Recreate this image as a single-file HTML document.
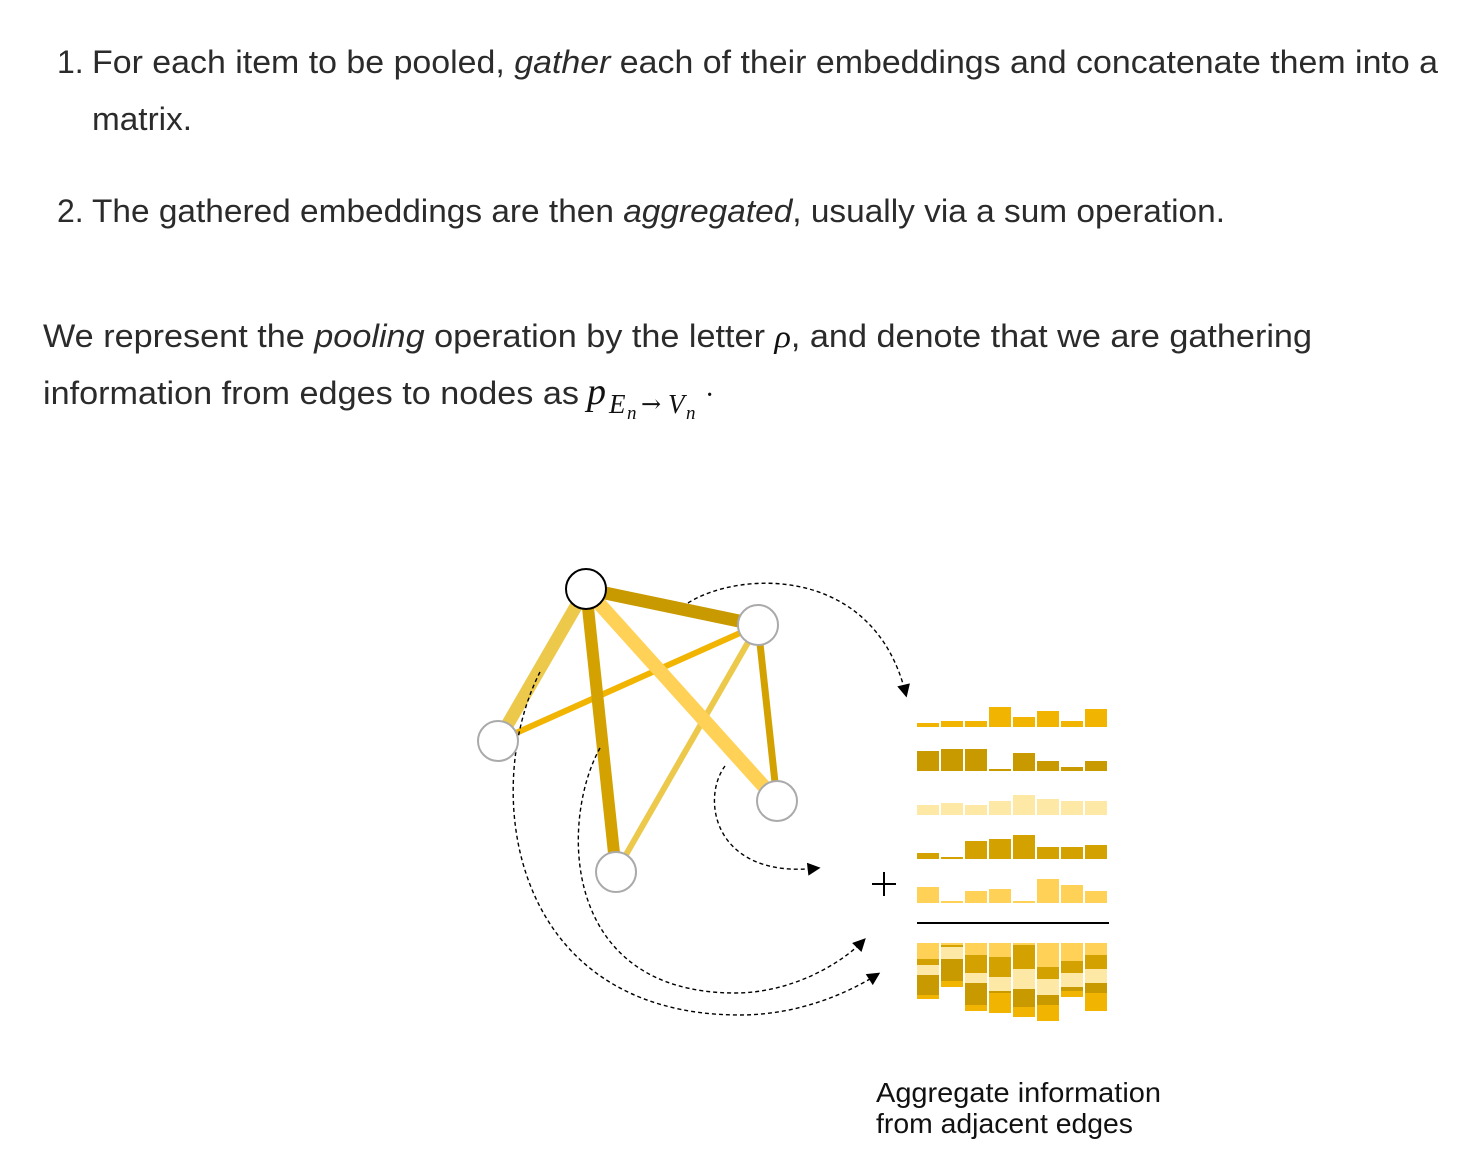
<!DOCTYPE html>
<html><head><meta charset="utf-8"><style>
html,body{margin:0;padding:0;background:#fff;}
svg{display:block;}
.t{font-family:"Liberation Sans",sans-serif;font-size:32px;fill:#2b2b2b;}
.i{font-style:italic;}
.m{font-family:"Liberation Serif",serif;font-style:italic;fill:#111;}
.cap{font-family:"Liberation Sans",sans-serif;font-size:28px;fill:#111;}
</style></head><body>
<svg width="1475" height="1155" viewBox="0 0 1475 1155" xmlns="http://www.w3.org/2000/svg">
<defs>
<marker id="ar" viewBox="0 0 10 10" refX="8" refY="5" markerWidth="15" markerHeight="13" orient="auto" markerUnits="userSpaceOnUse">
<path d="M0,0 L10,5 L0,10 z" fill="#000"/></marker>
</defs>
<text class="t" x="57" y="73">1.</text>
<text class="t" x="92" y="73" textLength="1346" lengthAdjust="spacingAndGlyphs">For each item to be pooled, <tspan class="i">gather</tspan> each of their embeddings and concatenate them into a</text>
<text class="t" x="92" y="130" textLength="100" lengthAdjust="spacingAndGlyphs">matrix.</text>
<text class="t" x="57" y="222">2.</text>
<text class="t" x="92" y="222" textLength="1133" lengthAdjust="spacingAndGlyphs">The gathered embeddings are then <tspan class="i">aggregated</tspan>, usually via a sum operation.</text>
<text class="t" x="43" y="347" textLength="1269" lengthAdjust="spacingAndGlyphs">We represent the <tspan class="i">pooling</tspan> operation by the letter <tspan class="m">ρ</tspan>, and denote that we are gathering</text>
<text class="t" x="43" y="404" textLength="536" lengthAdjust="spacingAndGlyphs">information from edges to nodes as</text>
<text class="m" x="587" y="404" font-size="38">p</text>
<text class="m" x="609" y="413" font-size="27">E</text>
<text class="m" x="627" y="419" font-size="19">n</text>
<text x="641" y="412" font-size="24" font-family="DejaVu Serif,serif" fill="#111">→</text>
<text class="m" x="668" y="413" font-size="27">V</text>
<text class="m" x="686" y="419" font-size="19">n</text>
<text x="705" y="404" font-size="28" font-family="Liberation Serif,serif" fill="#111">·</text>

<g stroke-linecap="butt">
<line x1="586" y1="589" x2="498" y2="741" stroke="#ecc94b" stroke-width="13"/>
<line x1="498" y1="741" x2="758" y2="625" stroke="#f1b400" stroke-width="6"/>
<line x1="586" y1="589" x2="616" y2="872" stroke="#d4a200" stroke-width="12"/>
<line x1="758" y1="625" x2="616" y2="872" stroke="#ecc94b" stroke-width="6"/>
<line x1="586" y1="589" x2="777" y2="801" stroke="#ffd257" stroke-width="14"/>
<line x1="586" y1="589" x2="758" y2="625" stroke="#c89a00" stroke-width="13"/>
<line x1="758" y1="625" x2="777" y2="801" stroke="#d4a200" stroke-width="7"/>
</g>
<g fill="none" stroke="#000" stroke-width="1.4" stroke-dasharray="4,3">
<path d="M688,603 C740,570 875,565 906,695" marker-end="url(#ar)"/>
<path d="M540,672 C480,790 510,1015 740,1015 C800,1015 850,992 878,974" marker-end="url(#ar)"/>
<path d="M600,748 C560,820 560,993 735,993 C790,993 840,965 864,940" marker-end="url(#ar)"/>
<path d="M725,766 C700,800 715,880 818,868" marker-end="url(#ar)"/>
</g>
<g fill="#fff" stroke="#aaa" stroke-width="2">
<circle cx="758" cy="625" r="20"/>
<circle cx="498" cy="741" r="20"/>
<circle cx="777" cy="801" r="20"/>
<circle cx="616" cy="872" r="20"/>
<circle cx="586" cy="589" r="20" stroke="#000"/>
</g>
<path d="M872,884 H896 M884,872 V896" stroke="#000" stroke-width="2"/>
<line x1="917" y1="923" x2="1109" y2="923" stroke="#000" stroke-width="2"/>
<text class="cap" x="876" y="1102" textLength="285" lengthAdjust="spacingAndGlyphs">Aggregate information</text>
<text class="cap" x="876" y="1133" textLength="257" lengthAdjust="spacingAndGlyphs">from adjacent edges</text>
<g>
<g fill="#f1b400">
<rect x="917" y="723" width="22" height="4"/><rect x="941" y="721" width="22" height="6"/><rect x="965" y="721" width="22" height="6"/><rect x="989" y="707" width="22" height="20"/><rect x="1013" y="717" width="22" height="10"/><rect x="1037" y="711" width="22" height="16"/><rect x="1061" y="721" width="22" height="6"/><rect x="1085" y="709" width="22" height="18"/>
</g>
<g fill="#c89a00">
<rect x="917" y="751" width="22" height="20"/><rect x="941" y="749" width="22" height="22"/><rect x="965" y="749" width="22" height="22"/><rect x="989" y="769" width="22" height="2"/><rect x="1013" y="753" width="22" height="18"/><rect x="1037" y="761" width="22" height="10"/><rect x="1061" y="767" width="22" height="4"/><rect x="1085" y="761" width="22" height="10"/>
</g>
<g fill="#fee8a6">
<rect x="917" y="805" width="22" height="10"/><rect x="941" y="803" width="22" height="12"/><rect x="965" y="805" width="22" height="10"/><rect x="989" y="801" width="22" height="14"/><rect x="1013" y="795" width="22" height="20"/><rect x="1037" y="799" width="22" height="16"/><rect x="1061" y="801" width="22" height="14"/><rect x="1085" y="801" width="22" height="14"/>
</g>
<g fill="#d4a200">
<rect x="917" y="853" width="22" height="6"/><rect x="941" y="857" width="22" height="2"/><rect x="965" y="841" width="22" height="18"/><rect x="989" y="839" width="22" height="20"/><rect x="1013" y="835" width="22" height="24"/><rect x="1037" y="847" width="22" height="12"/><rect x="1061" y="847" width="22" height="12"/><rect x="1085" y="845" width="22" height="14"/>
</g>
<g fill="#ffd257">
<rect x="917" y="887" width="22" height="16"/><rect x="941" y="901" width="22" height="2"/><rect x="965" y="891" width="22" height="12"/><rect x="989" y="889" width="22" height="14"/><rect x="1013" y="901" width="22" height="2"/><rect x="1037" y="879" width="22" height="24"/><rect x="1061" y="885" width="22" height="18"/><rect x="1085" y="891" width="22" height="12"/>
</g>
<g>
<rect x="917" y="943" width="22" height="16" fill="#ffd257"/><rect x="917" y="959" width="22" height="6" fill="#d4a200"/><rect x="917" y="965" width="22" height="10" fill="#fee8a6"/><rect x="917" y="975" width="22" height="20" fill="#c89a00"/><rect x="917" y="995" width="22" height="4" fill="#f1b400"/>
<rect x="941" y="943" width="22" height="2" fill="#ffd257"/><rect x="941" y="945" width="22" height="2" fill="#d4a200"/><rect x="941" y="947" width="22" height="12" fill="#fee8a6"/><rect x="941" y="959" width="22" height="22" fill="#c89a00"/><rect x="941" y="981" width="22" height="6" fill="#f1b400"/>
<rect x="965" y="943" width="22" height="12" fill="#ffd257"/><rect x="965" y="955" width="22" height="18" fill="#d4a200"/><rect x="965" y="973" width="22" height="10" fill="#fee8a6"/><rect x="965" y="983" width="22" height="22" fill="#c89a00"/><rect x="965" y="1005" width="22" height="6" fill="#f1b400"/>
<rect x="989" y="943" width="22" height="14" fill="#ffd257"/><rect x="989" y="957" width="22" height="20" fill="#d4a200"/><rect x="989" y="977" width="22" height="14" fill="#fee8a6"/><rect x="989" y="991" width="22" height="2" fill="#c89a00"/><rect x="989" y="993" width="22" height="20" fill="#f1b400"/>
<rect x="1013" y="943" width="22" height="2" fill="#ffd257"/><rect x="1013" y="945" width="22" height="24" fill="#d4a200"/><rect x="1013" y="969" width="22" height="20" fill="#fee8a6"/><rect x="1013" y="989" width="22" height="18" fill="#c89a00"/><rect x="1013" y="1007" width="22" height="10" fill="#f1b400"/>
<rect x="1037" y="943" width="22" height="24" fill="#ffd257"/><rect x="1037" y="967" width="22" height="12" fill="#d4a200"/><rect x="1037" y="979" width="22" height="16" fill="#fee8a6"/><rect x="1037" y="995" width="22" height="10" fill="#c89a00"/><rect x="1037" y="1005" width="22" height="16" fill="#f1b400"/>
<rect x="1061" y="943" width="22" height="18" fill="#ffd257"/><rect x="1061" y="961" width="22" height="12" fill="#d4a200"/><rect x="1061" y="973" width="22" height="14" fill="#fee8a6"/><rect x="1061" y="987" width="22" height="4" fill="#c89a00"/><rect x="1061" y="991" width="22" height="6" fill="#f1b400"/>
<rect x="1085" y="943" width="22" height="12" fill="#ffd257"/><rect x="1085" y="955" width="22" height="14" fill="#d4a200"/><rect x="1085" y="969" width="22" height="14" fill="#fee8a6"/><rect x="1085" y="983" width="22" height="10" fill="#c89a00"/><rect x="1085" y="993" width="22" height="18" fill="#f1b400"/>
</g>
</g>
</svg>
</body></html>
